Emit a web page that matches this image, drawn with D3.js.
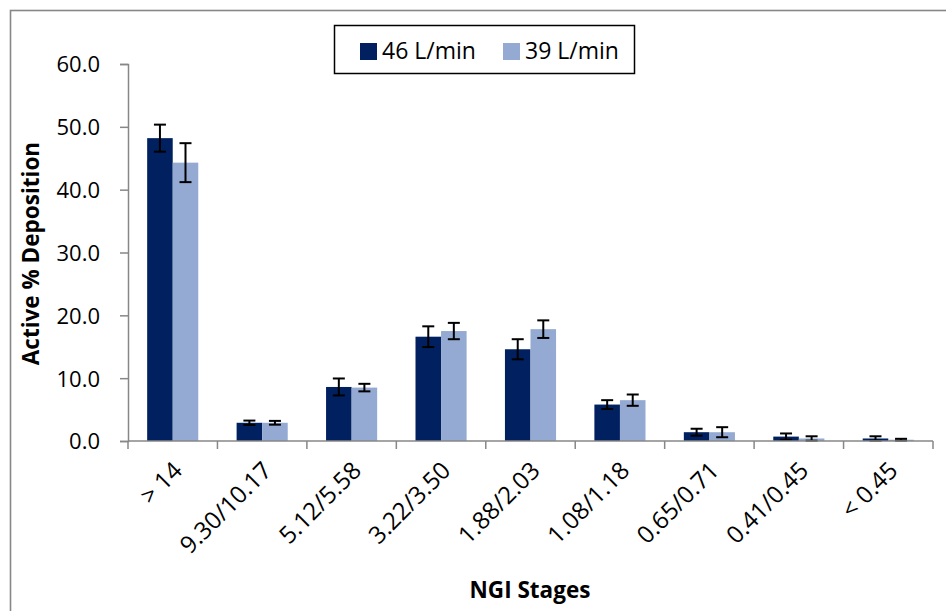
<!DOCTYPE html>
<html>
<head>
<meta charset="utf-8">
<script src="https://cdn.jsdelivr.net/npm/d3@7"></script>
<style>
  html, body { margin: 0; padding: 0; background: #fff; }
  svg { display: block; }
  text { font-family: "Open Sans", "Noto Sans", sans-serif; fill: #000; }
</style>
</head>
<body>
<svg id="chart" width="946" height="611"></svg>
<script>
// NGI stage cut-offs (µm) and active deposition per stage for two flow rates
const stages = ["> 14", "9.30/10.17", "5.12/5.58", "3.22/3.50", "1.88/2.03",
                "1.08/1.18", "0.65/0.71", "0.41/0.45", "< 0.45"];
const seriesNames = ["46 L/min", "39 L/min"];
const flow46 = [48.2, 2.9, 8.6, 16.6, 14.6, 5.8, 1.4, 0.7, 0.4];
const flow39 = [44.3, 2.9, 8.5, 17.5, 17.8, 6.5, 1.4, 0.4, 0.2];
const err46  = [2.15, 0.35, 1.35, 1.65, 1.6, 0.7, 0.55, 0.5, 0.35];
const err39  = [3.1, 0.3, 0.6, 1.3, 1.4, 0.9, 0.8, 0.35, 0.15];
const yTicks = [0, 10, 20, 30, 40, 50, 60];
const colors = ["#002060", "#95AAD2"];

const svg = d3.select("#chart");
const plot = { left: 128, right: 933, top: 64, bottom: 441 };

// outer chart frame
svg.append("rect")
  .attr("x", 10.5).attr("y", 10.5).attr("width", 960).attr("height", 640)
  .attr("fill", "none").attr("stroke", "#878787").attr("stroke-width", 1.6);

const y = d3.scaleLinear().domain([0, 60]).range([plot.bottom, plot.top]);
const x0 = d3.scaleBand().domain(stages).range([plot.left, plot.right]).padding(0);
// two bars per group with a 150% gap between groups
const groupW = x0.bandwidth() * 2 / 3.5;
const x1 = d3.scaleBand().domain(seriesNames).range([0, groupW]).padding(0);

const rows = stages.map((s, i) => ({
  stage: s,
  vals: [
    { name: seriesNames[0], v: flow46[i], e: err46[i], c: colors[0] },
    { name: seriesNames[1], v: flow39[i], e: err39[i], c: colors[1] }
  ]
}));

// y axis
const yAxis = d3.axisLeft(y).tickValues(yTicks).tickFormat(d3.format(".1f"))
  .tickSize(8).tickPadding(20);
const gy = svg.append("g").attr("transform", `translate(${plot.left},0)`).call(yAxis);
gy.select(".domain").attr("stroke", "#878787").attr("stroke-width", 1.5);
gy.selectAll(".tick line").attr("stroke", "#878787").attr("stroke-width", 1.5);
gy.selectAll(".tick text").style("font-size", "22px").attr("dy", "0.36em");

// bars
const groups = svg.append("g").selectAll("g").data(rows).join("g")
  .attr("transform", d => `translate(${x0(d.stage) + (x0.bandwidth() - groupW) / 2},0)`);

groups.selectAll("rect").data(d => d.vals).join("rect")
  .attr("x", d => x1(d.name))
  .attr("y", d => y(d.v))
  .attr("width", x1.bandwidth())
  .attr("height", d => y(0) - y(d.v))
  .attr("fill", d => d.c);

// error bars
const eb = groups.selectAll("g.err").data(d => d.vals).join("g").attr("class", "err")
  .attr("transform", d => `translate(${x1(d.name) + x1.bandwidth() / 2},0)`);
eb.append("line")
  .attr("y1", d => y(d.v + d.e)).attr("y2", d => y(Math.max(0, d.v - d.e)))
  .attr("stroke", "#000").attr("stroke-width", 2);
eb.append("line").attr("x1", -6).attr("x2", 6)
  .attr("y1", d => y(d.v + d.e)).attr("y2", d => y(d.v + d.e))
  .attr("stroke", "#000").attr("stroke-width", 2);
eb.append("line").attr("x1", -6).attr("x2", 6)
  .attr("y1", d => y(Math.max(0, d.v - d.e))).attr("y2", d => y(Math.max(0, d.v - d.e)))
  .attr("stroke", "#000").attr("stroke-width", 2);

// x axis with boundary ticks between categories
const gx = svg.append("g").attr("transform", `translate(0,${plot.bottom})`);
gx.append("line").attr("x1", plot.left).attr("x2", plot.right)
  .attr("stroke", "#878787").attr("stroke-width", 1.5);
const bounds = stages.map(s => x0(s)).concat([plot.right]);
gx.selectAll("line.tk").data(bounds).join("line").attr("class", "tk")
  .attr("x1", d => d).attr("x2", d => d).attr("y1", 0).attr("y2", 8)
  .attr("stroke", "#878787").attr("stroke-width", 1.5);
gx.selectAll("text").data(stages).join("text")
  .attr("text-anchor", "end")
  .attr("transform", d => `translate(${x0(d) + x0.bandwidth() / 2 + 11},${31}) rotate(-45)`)
  .style("font-size", "24px")
  .text(d => d);

// axis titles
svg.append("text")
  .attr("transform", `translate(39,${(plot.top + plot.bottom) / 2 + 1}) rotate(-90)`)
  .attr("text-anchor", "middle")
  .style("font-size", "22.5px").style("font-weight", "bold")
  .text("Active % Deposition");
svg.append("text")
  .attr("x", 530).attr("y", 598)
  .attr("text-anchor", "middle")
  .style("font-size", "22.5px").style("font-weight", "bold")
  .text("NGI Stages");

// legend
const lg = svg.append("g");
lg.append("rect").attr("x", 334.5).attr("y", 25.5).attr("width", 300).attr("height", 48)
  .attr("fill", "#fff").attr("stroke", "#000").attr("stroke-width", 1.5);
const items = [{ n: seriesNames[0], c: colors[0], x: 360 }, { n: seriesNames[1], c: colors[1], x: 503 }];
items.forEach(it => {
  lg.append("rect").attr("x", it.x).attr("y", 43).attr("width", 17).attr("height", 17).attr("fill", it.c);
  lg.append("text").attr("x", it.x + 22).attr("y", 59).style("font-size", "23px").text(it.n);
});
</script>
</body>
</html>
